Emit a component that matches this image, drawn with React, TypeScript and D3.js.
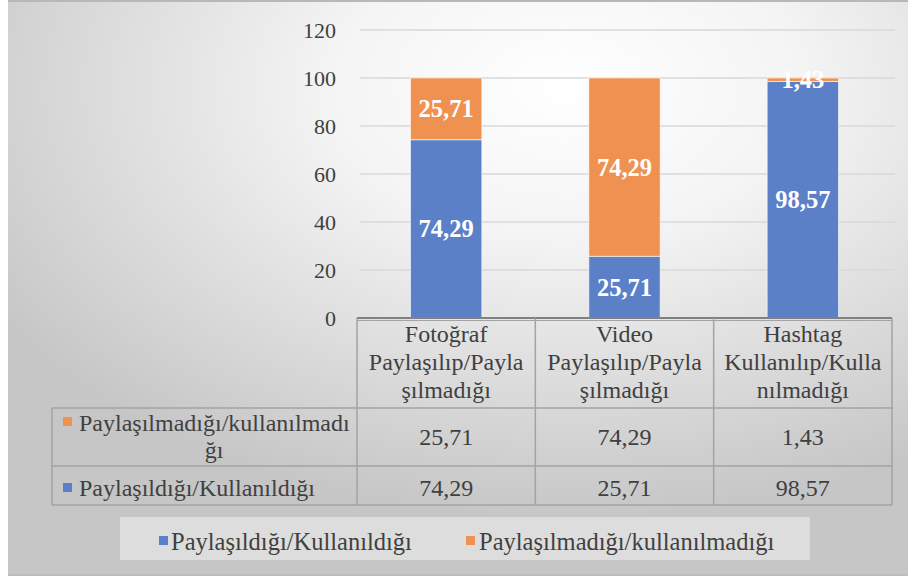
import React from "react";
import * as d3 from "d3";

const categories: string[][] = [
  ["Fotoğraf", "Paylaşılıp/Payla", "şılmadığı"],
  ["Video", "Paylaşılıp/Payla", "şılmadığı"],
  ["Hashtag", "Kullanılıp/Kulla", "nılmadığı"],
];
const seriesNames = ["Paylaşıldığı/Kullanıldığı", "Paylaşılmadığı/kullanılmadığı"];
const shared = [74.29, 25.71, 98.57];
const notShared = [25.71, 74.29, 1.43];
const yTicks = [0, 20, 40, 60, 80, 100, 120];
const colors = ["#5b80c8", "#ef9150"];

const fmt = (v: number) => v.toFixed(2).replace(".", ",");
const FONT = "Liberation Serif, Times New Roman, serif";
const TXT = "#404040";

export default function App() {
  const W = 910, H = 578;
  const x0 = 357, x1 = 892;
  const y = d3.scaleLinear().domain([0, 120]).range([318, 30]);
  const x = d3.scaleBand<number>().domain([0, 1, 2]).range([x0, x1]).paddingInner(0).paddingOuter(0);
  const bw = x.bandwidth() * 0.4;
  const stacks = categories.map((_, i) => [
    { s: 0, y0: 0, y1: shared[i], v: shared[i] },
    { s: 1, y0: shared[i], y1: shared[i] + notShared[i], v: notShared[i] },
  ]);
  const labelX0 = 52;
  const rowTops = [318, 408, 466, 505];
  const lineCol = "#a3a3a3";
  const fs = 24;
  const st = { fontFamily: FONT };
  const cxOf = (i: number) => (x(i) as number) + x.bandwidth() / 2;
  return (
    <div style={{ position: "fixed", left: 0, top: 0 }}>
      <svg width={W} height={H} style={{ display: "block", fontFamily: FONT }}>
        <defs>
          <radialGradient id="bg" cx="0.62" cy="0.15" r="0.75" gradientUnits="objectBoundingBox">
            <stop offset="0" stopColor="#ffffff" />
            <stop offset="0.35" stopColor="#f4f4f4" />
            <stop offset="1" stopColor="#c6c6c6" />
          </radialGradient>
        </defs>
        <rect x={0} y={0} width={W} height={H} fill="#ffffff" />
        <rect x={8} y={0} width={900} height={576} fill="url(#bg)" />
        <rect x={8} y={0} width={900} height={2} fill="#b8b8b8" />
        <rect x={8} y={574} width={900} height={2} fill="#bdbdbd" />
        {/* gridlines */}
        {yTicks.filter((t) => t > 0).map((t) => (
          <line key={t} x1={x0 + 3} x2={x1 + 3} y1={y(t)} y2={y(t)} stroke="#d9d9d9" strokeWidth={1.5} />
        ))}
        {/* y tick labels */}
        {yTicks.map((t) => (
          <text key={t} x={336} y={y(t)} dy="0.35em" textAnchor="end" fontSize={22} fill={TXT} style={st}>
            {t}
          </text>
        ))}
        {/* bars */}
        {stacks.map((sk, i) =>
          sk.map((seg) => {
            const cx = cxOf(i);
            const top = y(seg.y1), bot = y(seg.y0);
            return (
              <g key={i + "-" + seg.s}>
                <rect x={cx - bw / 2} y={top} width={bw} height={bot - top} fill={colors[seg.s]} stroke="#ffffff" strokeOpacity={0.6} strokeWidth={1} />
                <text x={cx} y={(top + bot) / 2} dy="0.35em" textAnchor="middle" fontSize={24.5} fontWeight="bold" fill="#ffffff" style={st}>
                  {fmt(seg.v)}
                </text>
              </g>
            );
          })
        )}
        {/* table */}
        <line x1={x0} x2={x1} y1={318} y2={318} stroke="#808080" strokeWidth={2} />
        <line x1={x0} x2={x1} y1={320.5} y2={320.5} stroke={lineCol} strokeWidth={1} />
        {[x0, ...categories.map((_, i) => (x(i) as number) + x.bandwidth())].map((vx, k) => (
          <line key={k} x1={vx} x2={vx} y1={318} y2={rowTops[3]} stroke={lineCol} strokeWidth={1.5} />
        ))}
        <line x1={labelX0} x2={labelX0} y1={rowTops[1]} y2={rowTops[3]} stroke={lineCol} strokeWidth={1.5} />
        {rowTops.slice(1).map((ry, k) => (
          <line key={k} x1={labelX0} x2={x1} y1={ry} y2={ry} stroke={lineCol} strokeWidth={1.5} />
        ))}
        {categories.map((lines, i) =>
          lines.map((ln, j) => (
            <text key={i + "-" + j} x={cxOf(i)} y={334 + j * 28} dy="0.35em" textAnchor="middle" fontSize={fs} fill={TXT} style={st}>
              {ln}
            </text>
          ))
        )}
        {/* row labels */}
        <rect x={63} y={417} width={9} height={9} fill={colors[1]} />
        <text x={79} y={423} dy="0.35em" fontSize={fs} fill={TXT} style={st}>Paylaşılmadığı/kullanılmadı</text>
        <text x={214} y={450} dy="0.35em" textAnchor="middle" fontSize={fs} fill={TXT} style={st}>ğı</text>
        <rect x={63} y={483} width={9} height={9} fill={colors[0]} />
        <text x={79} y={488} dy="0.35em" fontSize={fs} fill={TXT} style={st}>{seriesNames[0]}</text>
        {notShared.map((v, i) => (
          <text key={"n" + i} x={cxOf(i)} y={437} dy="0.35em" textAnchor="middle" fontSize={fs} fill={TXT} style={st}>
            {fmt(v)}
          </text>
        ))}
        {shared.map((v, i) => (
          <text key={"s" + i} x={cxOf(i)} y={488} dy="0.35em" textAnchor="middle" fontSize={fs} fill={TXT} style={st}>
            {fmt(v)}
          </text>
        ))}
        {/* legend */}
        <rect x={120} y={517} width={690} height={43} fill="#ffffff" fillOpacity={0.4} />
        <rect x={159} y={536} width={9} height={9} fill={colors[0]} />
        <text x={171} y={541} dy="0.35em" fontSize={24.5} fill={TXT} style={st}>{seriesNames[0]}</text>
        <rect x={466} y={536} width={9} height={9} fill={colors[1]} />
        <text x={479} y={541} dy="0.35em" fontSize={24.5} fill={TXT} style={st}>{seriesNames[1]}</text>
      </svg>
    </div>
  );
}
